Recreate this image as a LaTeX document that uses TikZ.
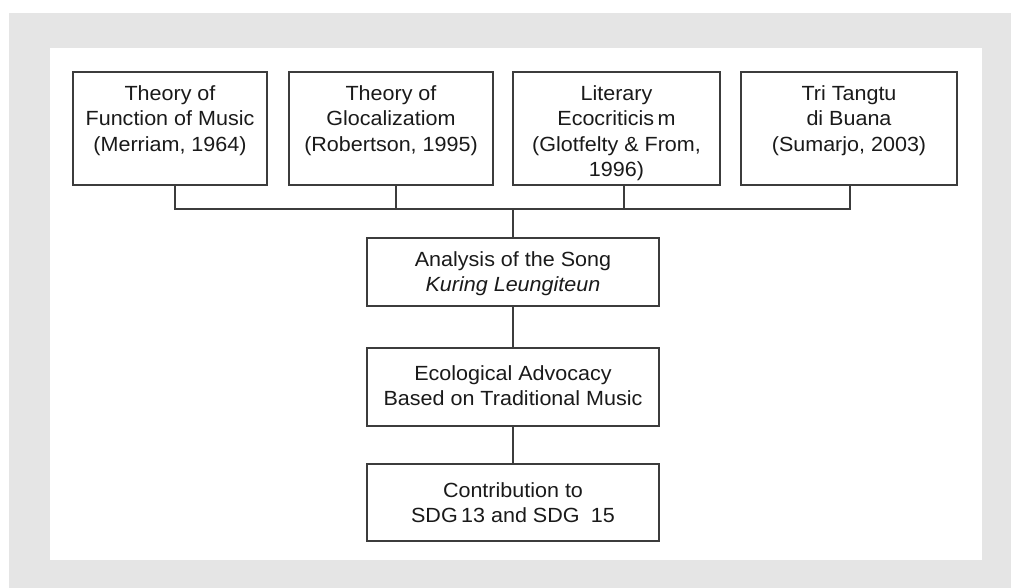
\documentclass[tikz,border=0pt]{standalone}
\usepackage{fontspec}
\setmainfont{Liberation Sans}[FakeStretch=1.05]
\definecolor{bggray}{HTML}{E5E5E5}
\definecolor{linegray}{HTML}{3C3C3C}
\definecolor{txt}{HTML}{1A1A1A}
\newcommand{\bxt}[4]{\parbox[c][#2][t]{#1}{\centering\fontsize{20.5pt}{25.5pt}\selectfont\rule{0pt}{#3}#4\par}}
\begin{document}
\begin{tikzpicture}[x=1pt,y=-1pt,
  bx/.style={draw=linegray, line width=1.2pt, inner sep=0pt, rectangle, text=txt, fill=white},
  conn/.style={draw=linegray, line width=1.2pt}]
\useasboundingbox (0,0) rectangle (1011,588);
\fill[white] (0,0) rectangle (1011,588);
\fill[bggray] (9,13) rectangle (1011,588);
\fill[white] (50,48) rectangle (982,560);

\node[bx] (t1) at (170,128.5) {\bxt{194pt}{113pt}{28.5pt}{Theory of\\Function of Music\\(Merriam, 1964)}};
\node[bx] (t2) at (391,128.5) {\bxt{204pt}{113pt}{28.5pt}{Theory of\\Glocalizatiom\\(Robertson, 1995)}};
\node[bx] (t3) at (616.5,128.5) {\bxt{207pt}{113pt}{28.5pt}{Literary\\Ecocriticis\,m\\(Glotfelty \& From,\\1996)}};
\node[bx] (t4) at (849,128.5) {\bxt{216pt}{113pt}{28.5pt}{Tri Tangtu\\di Buana\\(Sumarjo, 2003)}};

\node[bx] (a) at (513,272) {\bxt{292pt}{68pt}{28pt}{Analysis of the Song\\\textit{Kuring Leungiteun}}};
\node[bx] (e) at (513,387) {\bxt{292pt}{78pt}{32pt}{Ecological Advocacy\\Based on Traditional Music}};
\node[bx] (c) at (513,502.5) {\bxt{292pt}{77pt}{33pt}{Contribution to\\SDG\,13 and SDG\hspace{0.55em}15}};

\coordinate (b1) at (175,209);
\coordinate (b2) at (396,209);
\coordinate (b3) at (624,209);
\coordinate (b4) at (850,209);
\coordinate (bm) at (513,209);

\draw[conn] (t1.south -| b1) -- (b1) -- (b4) -- (t4.south -| b4);
\draw[conn] (t2.south -| b2) -- (b2);
\draw[conn] (t3.south -| b3) -- (b3);
\draw[conn] (bm) -- (a.north);
\draw[conn] (a.south) -- (e.north);
\draw[conn] (e.south) -- (c.north);
\end{tikzpicture}
\end{document}
